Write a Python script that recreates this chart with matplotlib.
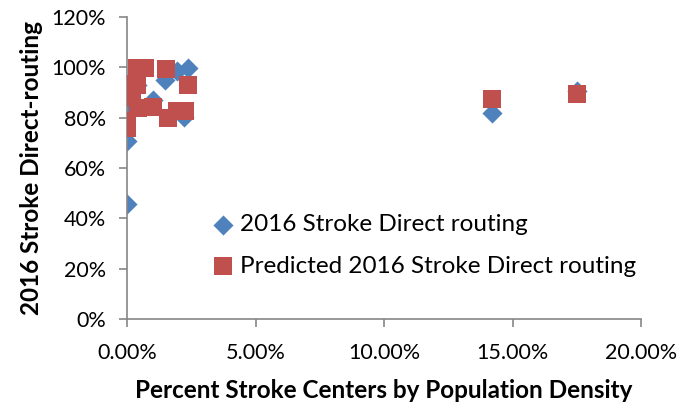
import matplotlib
matplotlib.use("Agg")
import matplotlib.pyplot as plt
from matplotlib.ticker import FuncFormatter

# percent stroke centers by population density (x) vs direct routing (y), both in %
actual_x = [0.00, 0.00, 0.05, 0.20, 0.40, 1.00, 1.47, 1.93, 2.39, 2.22, 14.19, 17.50]
actual_y = [45.7, 70.8, 85.5, 90.0, 93.0, 87.0, 95.0, 98.5, 99.8, 80.3, 81.8, 90.6]

pred_x = [0.40, 0.69, 1.53, 0.04, 0.40, 0.19, 0.43, 1.01, 1.60, 1.93, 2.26, 2.39,
          0.00, 0.00, 14.19, 17.50]
pred_y = [99.6, 99.8, 99.4, 93.2, 93.0, 88.3, 84.0, 84.3, 79.8, 82.8, 82.8, 93.0,
          78.8, 75.8, 87.3, 89.4]

blue = "#4F81BD"
red = "#C0504D"
grey = "#868686"
font = "Lato"

fig = plt.figure(figsize=(6.83, 4.11), dpi=100)
ax = fig.add_axes([127 / 683, 1 - 319 / 411, 514 / 683, 302 / 411])

ax.scatter(actual_x, actual_y, marker="D", s=105, color=blue, linewidths=0,
           label="2016 Stroke Direct routing", zorder=2)
ax.scatter(pred_x, pred_y, marker="s", s=150, color=red, linewidths=0,
           label="Predicted 2016 Stroke Direct routing", zorder=3)

ax.set_xlim(0, 20)
ax.set_ylim(0, 120)
ax.set_xticks([0, 5, 10, 15, 20])
ax.set_yticks(range(0, 121, 20))
ax.xaxis.set_major_formatter(FuncFormatter(lambda v, p: "%.2f%%" % v))
ax.yaxis.set_major_formatter(FuncFormatter(lambda v, p: "%d%%" % v))

for s in ["top", "right"]:
    ax.spines[s].set_visible(False)
for s in ["left", "bottom"]:
    ax.spines[s].set_color(grey)
    ax.spines[s].set_linewidth(1.2)
ax.tick_params(axis="both", colors=grey, length=6, width=1.2, labelcolor="black",
               labelsize=15.5)
ax.tick_params(axis="x", pad=11)
ax.tick_params(axis="y", pad=9)
for lab in ax.get_xticklabels() + ax.get_yticklabels():
    lab.set_family(font)

ax.set_xlabel("Percent Stroke Centers by Population Density", fontsize=17.5,
              fontweight="bold", family=font, labelpad=12)
ax.set_ylabel("2016 Stroke Direct-routing", fontsize=17.5, fontweight="bold",
              family=font, labelpad=6)

ax.legend(loc="upper left", bbox_to_anchor=(0.145, 0.38), frameon=False,
          prop={"family": font, "size": 17.5}, handletextpad=0.2, labelspacing=0.85,
          borderaxespad=0, handlelength=1.0)

fig.savefig("out.png", dpi=100)
